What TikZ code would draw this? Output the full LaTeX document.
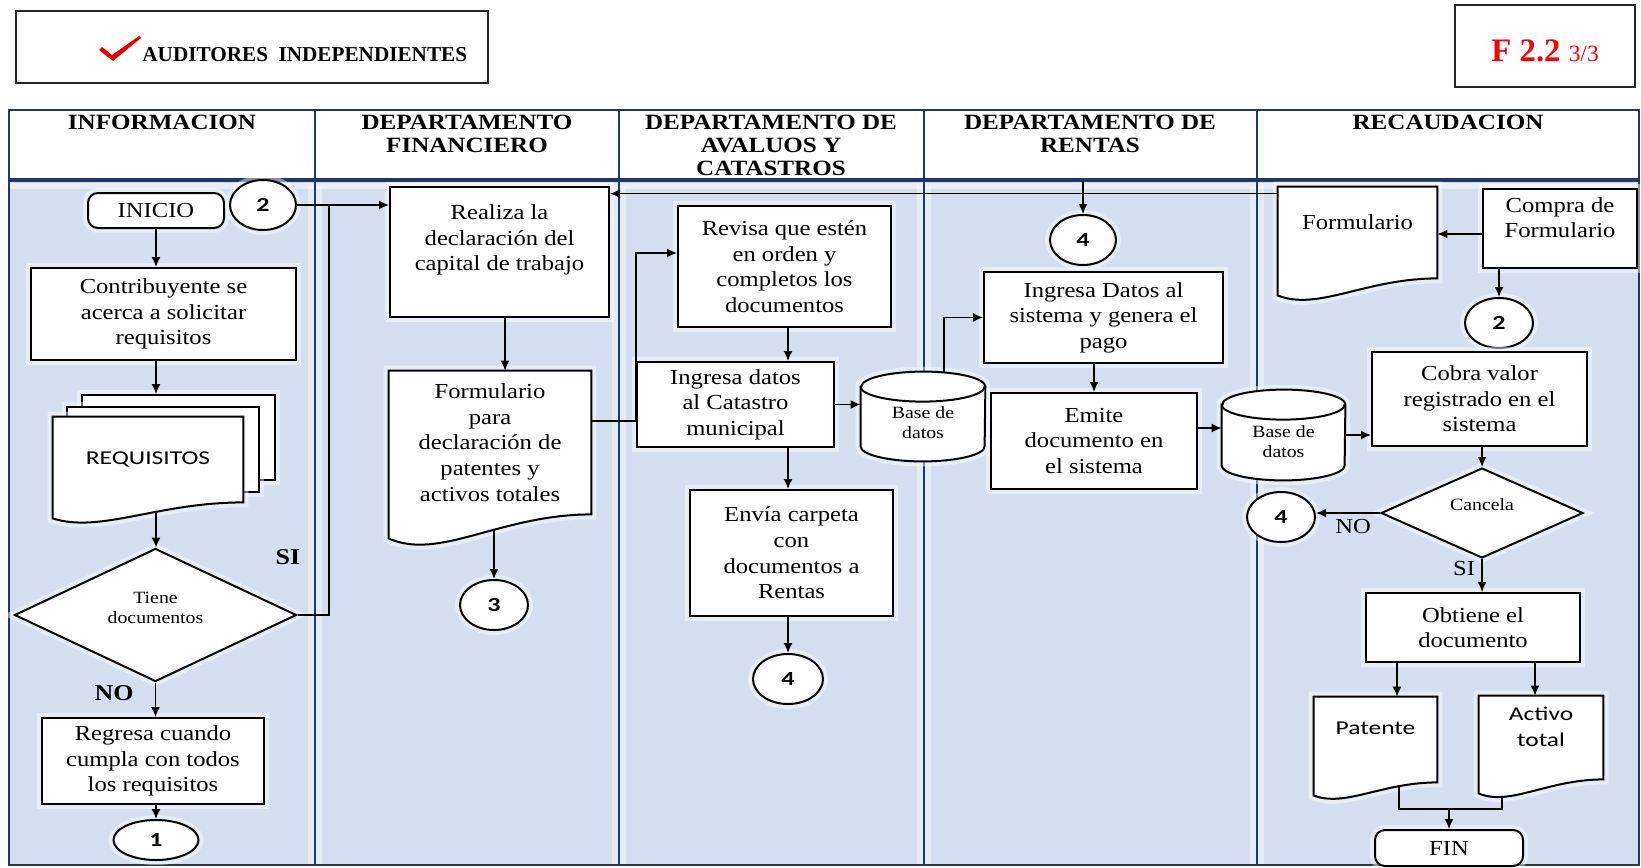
\documentclass[tikz,border=0pt]{standalone}
\usepackage{fontspec}
\setmainfont[FakeStretch=1.15]{Liberation Serif}
\newfontfamily\plainserif{Liberation Serif}
\newfontfamily\calib[FakeStretch=1.3]{Carlito}
\usetikzlibrary{shapes.geometric,arrows.meta,calc}
\pgfdeclarelayer{bg}
\pgfdeclarelayer{shp}
\pgfsetlayers{bg,shp,main}
\definecolor{lanefill}{RGB}{212,222,238}
\definecolor{navy}{RGB}{31,56,100}
\definecolor{chk}{RGB}{232,0,0}
\newcommand\myBody{\fontsize{10.7}{12.8}\selectfont}
\newcommand\myHead{\fontsize{10.9}{11.5}\selectfont\bfseries}
\newcommand\mySmall{\fontsize{8.6}{10}\selectfont}
\newcommand\mySans{\calib\fontsize{9.8}{13}\selectfont}
\newcommand\myNum{\calib\bfseries\fontsize{10}{12}\selectfont}
\newcommand\myBold{\fontsize{11.3}{13}\selectfont\bfseries}
\newcommand\docpath[2]{%
  \draw[shpline] (#1.north west) -- (#1.north east) -- (#1.south east)
   .. controls ($(#1.south west)!0.55!(#1.south east)$) and ($(#1.south west)!0.25!(#1.south east)+(0pt,-1.95*#2)$) .. ([yshift=-#2]#1.south west) -- cycle;}
\newcommand\cylpath[2]{%
  \draw[shpline] ([yshift=-7.5pt]#1.north west) -- ([yshift=7.5pt]#1.south west)
    arc[start angle=180,end angle=360,x radius=#2,y radius=7.5pt] -- ([yshift=-7.5pt]#1.north east)
    arc[start angle=0,end angle=180,x radius=#2,y radius=7.5pt] -- cycle;
  \draw[line width=1pt] ([yshift=-7.5pt]#1.north west) arc[start angle=180,end angle=360,x radius=#2,y radius=7.5pt];}
\tikzset{
  halo/.style={preaction={draw=white, line width=5pt, opacity=0.45}},
  sz/.style 2 args={minimum width=#1*0.5pt, minimum height=#2*0.5pt},
  shpline/.style={draw=black, line width=1pt, fill=white, halo},
  proc/.style={rectangle, draw=black, line width=1pt, fill=white, inner sep=0pt, align=center, font=\myBody, halo},
  term/.style={proc, rounded corners=5pt},
  con/.style={ellipse, draw=black, line width=1pt, fill=white, inner sep=0pt, font=\myNum, halo},
  dec/.style={diamond, aspect=2, draw=black, line width=1pt, fill=white, inner sep=0pt, align=center, halo},
  ghost/.style={rectangle, inner sep=0pt, align=center},
  lbl/.style={inner sep=0pt, align=center},
  ln/.style={draw=black, line width=0.8pt},
  arr/.style={ln, -{Latex[length=5pt,width=4.5pt]}},
}
\begin{document}
\begin{tikzpicture}[x=0.5pt,y=-0.5pt]
\useasboundingbox (0,0) rectangle (1641,867);
% ---------- lanes ----------
\begin{pgfonlayer}{bg}
  \fill[lanefill] (9,180) rectangle (1639,865);
  \draw[white, opacity=0.5, line width=3pt] (9,186) -- (1639,186);
  \foreach \x in {315,619,924,1257} {
    \draw[white, opacity=0.4, line width=7pt] (\x,186) -- (\x,865);
    \draw[navy, line width=1pt] (\x,110) -- (\x,865);
  }
  \draw[navy, line width=1.2pt] (9,110) rectangle (1639,865);
  \draw[navy, line width=1.8pt] (9,180) -- (1639,180);
\end{pgfonlayer}
% ---------- top boxes ----------
\node[draw=black!85, line width=1pt, sz={472}{72}, inner sep=0pt] (audbox) at (252,47) {};
\fill[chk] (99,50) -- (102,47) -- (112,55) -- (139,36) -- (141,38) -- (113,61) -- cycle;
\node[anchor=base west, inner sep=0pt, font=\plainserif\bfseries\fontsize{10.6}{12}\selectfont] (aud) at (142,61) {AUDITORES\ \ INDEPENDIENTES};
\node[draw=black!85, line width=1pt, sz={180}{82}, inner sep=0pt] (fbox) at (1545,46) {};
\node[anchor=base, inner sep=0pt, text=red] (fcode) at (1545,61) {\plainserif\fontsize{16.4}{18}\selectfont\bfseries F 2.2\ {\fontsize{11.7}{13}\selectfont\mdseries 3/3}};
% ---------- headers ----------
\node[lbl, font=\myHead, anchor=north] (h1) at (162,114.5) {INFORMACION};
\node[lbl, font=\myHead, anchor=north] (h2) at (467,114.5) {DEPARTAMENTO\\FINANCIERO};
\node[lbl, font=\myHead, anchor=north] (h3) at (771,114.5) {DEPARTAMENTO DE\\AVALUOS Y\\CATASTROS};
\node[lbl, font=\myHead, anchor=north] (h4) at (1090,114.5) {DEPARTAMENTO DE\\RENTAS};
\node[lbl, font=\myHead, anchor=north] (h5) at (1448,114.5) {RECAUDACION};
% ---------- lane 1 ----------
\node[term, sz={136}{35}] (inicio) at (156,210.5) {INICIO};
\node[con, sz={66}{50}] (c2a) at (263,205) {2};
\node[proc, sz={265}{92}] (contrib) at (163.5,314) {Contribuyente se\\acerca a solicitar\\requisitos};
\node[ghost, sz={190}{85}, font=\mySans] (req) at (148,459.5) {REQUISITOS};
\node[dec, sz={282}{133}, label={[lbl,font=\mySmall,yshift=3.5pt]center:{Tiene\\documentos}}] (tiene) at (155.5,615) {};
\node[lbl, font=\myBold] (si1) at (288,557) {SI};
\node[lbl, font=\myBold] (no1) at (114,693) {NO};
\node[proc, sz={222}{86}] (regresa) at (153,761) {Regresa cuando\\cumpla con todos\\los requisitos};
\node[con, sz={85}{40}] (c1) at (156,840) {1};
% ---------- lane 2 ----------
\node[proc, sz={219}{130}, label={[lbl,font=\myBody,yshift=6pt]center:{Realiza la\\declaración del\\capital de trabajo}}] (realiza) at (499.5,252) {};
\node[ghost, sz={202}{143}, font=\myBody] (formA) at (490,442.5) {Formulario\\para\\declaración de\\patentes y\\activos totales};
\node[con, sz={68}{50}] (c3) at (494,605) {3};
% ---------- lane 3 ----------
\node[proc, sz={213}{121}] (revisa) at (784.5,266.5) {Revisa que estén\\en orden y\\completos los\\documentos};
\node[proc, sz={197}{85}] (ingA) at (735.5,404.5) {Ingresa datos\\al Catastro\\municipal};
\node[ghost, sz={124}{89}, label={[lbl,font=\mySmall,yshift=-3.25pt]center:{Base de\\datos}}] (bd1) at (923,416.5) {};
\node[proc, sz={203}{126}] (envia) at (791.5,553) {Envía carpeta\\con\\documentos a\\Rentas};
\node[con, sz={70}{50}] (c4a) at (788,679) {4};
% ---------- lane 4 ----------
\coordinate (rtop) at (1083,181);
\node[con, sz={66}{50}] (c4b) at (1083,240) {4};
\node[proc, sz={239}{91}] (ingR) at (1103.5,317.5) {Ingresa Datos al\\sistema y genera el\\pago};
\node[proc, sz={206}{96}] (emite) at (1094,441) {Emite\\documento en\\el sistema};
\node[ghost, sz={123}{90}, label={[lbl,font=\mySmall,yshift=-3.25pt]center:{Base de\\datos}}] (bd2) at (1283.5,435) {};
% ---------- lane 5 ----------
\node[ghost, sz={159}{91}, label={[lbl,font=\myBody,yshift=5pt]center:Formulario}] (formB) at (1357.5,232.5) {};
\node[proc, sz={154}{79}, label={[lbl,font=\myBody,yshift=5.5pt]center:{Compra de\\Formulario}}] (compra) at (1560,228.5) {};
\node[con, sz={68}{50}] (c2b) at (1499,323) {2};
\node[proc, sz={215}{94}] (cobra) at (1479.5,399) {Cobra valor\\registrado en el\\sistema};
\node[dec, sz={202}{90}, label={[lbl,font=\mySmall,yshift=4pt]center:Cancela}] (cancela) at (1482,513) {};
\node[con, sz={68}{50}] (c4c) at (1281,517) {4};
\node[lbl, font=\myBody] (no2) at (1353,527) {NO};
\node[lbl, font=\myBody] (si2) at (1464,569) {SI};
\node[proc, sz={214}{69}] (obtiene) at (1473,627.5) {Obtiene el\\documento};
\node[ghost, sz={123}{85}, label={[lbl,font=\mySans,yshift=5.75pt]center:Patente}] (patente) at (1375.5,739.5) {};
\node[ghost, sz={124}{83}, label={[lbl,font=\mySans,yshift=5.25pt]center:{Activo\\total}}] (activo) at (1541,737.5) {};
\node[term, sz={148}{36}] (fin) at (1449,848) {FIN};
% ---------- documents and databases ----------
\begin{pgfonlayer}{shp}
  \node[proc, sz={193}{85}] (req3) at (178.5,437.5) {};
  \node[proc, sz={192}{85}] (req2) at (163,449.5) {};
  \docpath{req}{8pt}
  \docpath{formA}{12pt}
  \docpath{formB}{8.5pt}
  \docpath{patente}{6.5pt}
  \docpath{activo}{7pt}
  \cylpath{bd1}{31pt}
  \cylpath{bd2}{30.75pt}
\end{pgfonlayer}
% ---------- connectors ----------
\coordinate (sij) at (329,205);
\coordinate (reqb) at ([xshift=4pt,yshift=-4.7pt]req.south);
\draw[arr] (inicio.south) -- (inicio.south |- contrib.north);
\draw[arr] (inicio.south |- contrib.south) -- (inicio.south |- req3.north);
\draw[arr] (reqb) -- (reqb |- tiene.north);
\draw[ln] (tiene.east) -| (sij);
\draw[arr] (c2a.east) -- (c2a.east -| realiza.west);
\draw[arr] (tiene.south) -- (tiene.south |- regresa.north);
\draw[arr] (c1.north |- regresa.south) -- (c1.north);
\coordinate (fa1) at ([xshift=2.75pt]realiza.south);
\draw[arr] (fa1) -- (fa1 |- formA.north);
\coordinate (fab) at ([xshift=2pt,yshift=-7.65pt]formA.south);
\draw[arr] (fab) -- (fab |- c3.north);
\coordinate (fae) at ([yshift=10.75pt]formA.east);
\coordinate (rv) at ([yshift=6.75pt]revisa.west);
\draw[arr] (fae) -| (ingA.west |- rv) -- (rv);
\coordinate (e1) at ([xshift=-1.75pt]envia.north);
\draw[arr] (e1 |- revisa.south) -- (e1 |- ingA.north);
\draw[arr] (ingA.east) -- (ingA.east -| bd1.west);
\draw[arr] (e1 |- ingA.south) -- (e1);
\draw[arr] (e1 |- envia.south) -- (c4a.north);
\coordinate (b1t) at ([xshift=10.5pt]bd1.north);
\draw[arr] (b1t) |- (ingR.west);
\draw[arr] (rtop) -- (c4b.north);
\draw[arr] (emite.north |- ingR.south) -- (emite.north);
\coordinate (em1) at ([yshift=6.5pt]emite.east);
\draw[arr] (em1) -- (em1 -| bd2.west);
\draw[arr] (bd2.east) -- (bd2.east -| cobra.west);
\coordinate (fb1) at ([yshift=-3.5pt]formB.north west);
\draw[arr] (fb1) -- (fb1 -| realiza.east);
\coordinate (cp1) at ([yshift=-2.75pt]compra.west);
\draw[arr] (cp1) -- (cp1 -| formB.east);
\draw[arr] (c2b.north |- compra.south) -- (c2b.north);
\draw[arr] (cancela.north |- cobra.south) -- (cancela.north);
\draw[arr] (cancela.west) -- (cancela.west -| c4c.east);
\draw[arr] (cancela.south) -- (cancela.south |- obtiene.north);
\coordinate (pa) at ([xshift=10.75pt]patente.north);
\draw[arr] (pa |- obtiene.south) -- (pa);
\coordinate (aa) at ([xshift=-3pt]activo.north);
\draw[arr] (aa |- obtiene.south) -- (aa);
\coordinate (pj) at ([xshift=11.75pt,yshift=-2pt]patente.south);
\coordinate (aj) at ([xshift=-19.5pt,yshift=-8.75pt]activo.south);
\coordinate (fj) at ([yshift=10pt]fin.north);
\draw[ln] (pj) |- (fj) -| (aj);
\draw[arr] (fj) -- (fin.north);
\end{tikzpicture}
\end{document}
